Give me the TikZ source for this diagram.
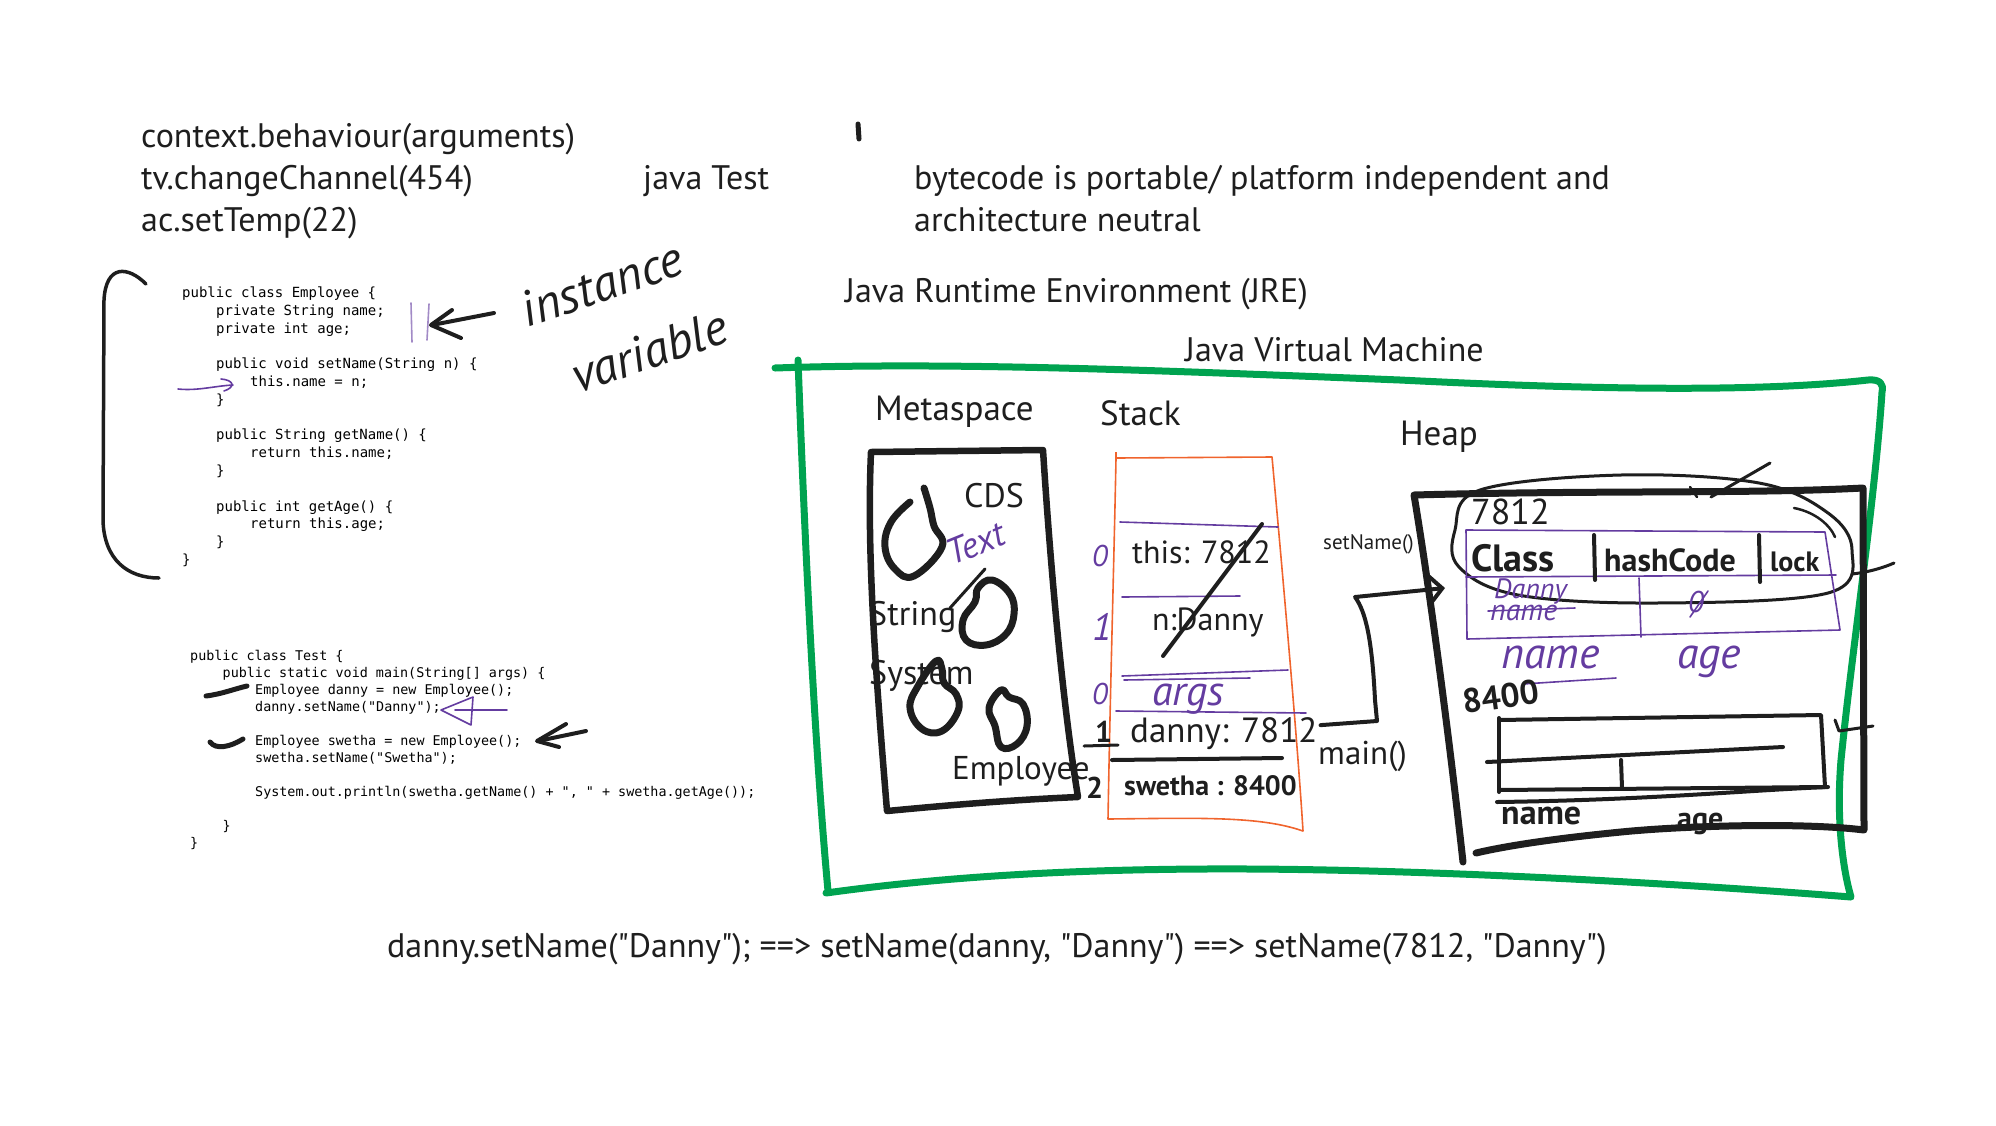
\documentclass[tikz,border=0pt]{standalone}
\usepackage{fontspec}
\usetikzlibrary{arrows.meta}
\newfontfamily\handfont{PT Sans}
\newfontfamily\codefont{DejaVu Sans Mono}
\definecolor{jvmgreen}{RGB}{0,163,80}
\definecolor{stackorange}{RGB}{240,100,45}
\definecolor{penpurple}{RGB}{100,60,160}
\definecolor{ink}{RGB}{30,30,30}
\tikzset{
  typed/.style={anchor=base west, inner sep=0pt, text=ink, font=\handfont\fontsize{#1}{#1}\selectfont},
  typed/.default=34,
  codeline/.style={anchor=base west, inner sep=0pt, text=black, font=\codefont\fontsize{14}{17}\selectfont},
  testline/.style={codeline, font=\codefont\fontsize{13.4}{16}\selectfont},
  scrawl/.style={anchor=base west, inner sep=0pt, text=ink, font=\handfont\bfseries\fontsize{#1}{#1}\selectfont},
  cursive/.style={anchor=base west, inner sep=0pt, text=penpurple, font=\handfont\itshape\fontsize{#1}{#1}\selectfont},
  pen/.style={penpurple, line width=1.6pt, line cap=round, line join=round},
  marker/.style={ink, line width=4pt, line cap=round, line join=round},
  blob/.style={ink, line width=7pt, line cap=round, line join=round},
  memline/.style={ink, line width=6.5pt, line cap=round, line join=round},
  vmline/.style={jvmgreen, line width=7pt, line cap=round, line join=round}
}
\begin{document}
\begin{tikzpicture}[x=1pt, y=-1pt]
  \useasboundingbox (0,0) rectangle (1996,1125);

  \node[typed] (ctx) at (141,147) {context.behaviour(arguments)};
  \node[typed] (tv) at (141,189) {tv.changeChannel(454)};
  \node[typed] (ac) at (141,231) {ac.setTemp(22)};
  \node[typed] (run) at (643,189) {java Test};
  \node[typed] (portable) at (914,189) {bytecode is portable/ platform independent and};
  \node[typed] (neutral) at (914,231) {architecture neutral};
  \node[typed] (jre) at (845,302) {Java Runtime Environment (JRE)};
  \node[typed] (jvm) at (1185,361) {Java Virtual Machine};
  \draw[ink, line width=5pt, line cap=round] (858,124) -- (859,139);

  \draw[ink, line width=3.5pt, line cap=round] (146,284) .. controls (128,266) and (106,264) .. (104,300) -- (103,520) .. controls (104,560) and (128,578) .. (159,578);
  \node[codeline] (e1) at (182,297.5) {public class Employee \{};
  \node[codeline] (e2) at (216,315.3) {private String name;};
  \node[codeline] (e3) at (216,333.1) {private int age;};
  \node[codeline] (e4) at (216,368.7) {public void setName(String n) \{};
  \node[codeline] (e5) at (250,386.5) {this.name = n;};
  \node[codeline] (e6) at (216,404.3) {\}};
  \node[codeline] (e7) at (216,439.9) {public String getName() \{};
  \node[codeline] (e8) at (250,457.7) {return this.name;};
  \node[codeline] (e9) at (216,475.5) {\}};
  \node[codeline] (e10) at (216,511.1) {public int getAge() \{};
  \node[codeline] (e11) at (250,528.9) {return this.age;};
  \node[codeline] (e12) at (216,546.7) {\}};
  \node[codeline] (e13) at (182,564.5) {\}};

  \draw[pen, penpurple!60] (411,303) -- (412,342);
  \draw[pen, penpurple!60] (429,304) -- (427,340);
  \draw[marker] (494,313) -- (432,325);
  \draw[marker] (452,310) -- (431,325) -- (461,338);
  \node[inner sep=0pt, text=ink, align=left, rotate=19, font=\handfont\itshape\fontsize{50}{79}\selectfont] (instvar) at (624,318) {instance\\\hspace{26pt}variable};
  \draw[pen] (178,389) .. controls (198,391) and (214,386) .. (233,385);
  \draw[pen] (221,379) .. controls (234,380) and (236,387) .. (224,391);

  \node[testline] (t1) at (190,660.3) {public class Test \{};
  \node[testline] (t2) at (222.5,677.3) {public static void main(String[] args) \{};
  \node[testline] (t3) at (255,694.3) {Employee danny = new Employee();};
  \node[testline] (t4) at (255,711.3) {danny.setName("Danny");};
  \node[testline] (t5) at (255,745.3) {Employee swetha = new Employee();};
  \node[testline] (t6) at (255,762.3) {swetha.setName("Swetha");};
  \node[testline] (t7) at (255,796.3) {System.out.println(swetha.getName() + ", " + swetha.getAge());};
  \node[testline] (t8) at (222.5,830.3) {\}};
  \node[testline] (t9) at (190,847.3) {\}};

  \draw[marker, line width=5pt] (206,696) .. controls (222,694) and (234,689) .. (247,686);
  \draw[marker, line width=5pt] (210,742) .. controls (216,750) and (230,747) .. (243,739);
  \draw[pen] (473,697) -- (441,710) -- (471,725) -- cycle;
  \draw[pen] (455,710) -- (507,710);
  \draw[marker] (586,731) -- (538,741);
  \draw[marker] (566,724) -- (537,741) -- (559,747);

  \draw[vmline] (775,368) .. controls (950,362) and (1150,370) .. (1400,380) .. controls (1600,390) and (1760,392) .. (1868,380) .. controls (1880,379) and (1884,384) .. (1882,392) .. controls (1875,500) and (1852,650) .. (1841,760) .. controls (1836,820) and (1843,870) .. (1851,897) .. controls (1700,885) and (1450,870) .. (1250,869) .. controls (1050,868) and (920,880) .. (826,893);
  \draw[vmline] (798,360) .. controls (805,550) and (815,750) .. (828,891);

  \node[typed=35] (metaspace) at (875,420) {Metaspace};
  \node[typed=35] (stack) at (1100,425) {Stack};
  \node[typed=35] (heap) at (1400,445) {Heap};

  \draw[memline] (871,452) -- (1043,450) .. controls (1050,560) and (1062,700) .. (1078,797) .. controls (1010,800) and (950,805) .. (887,811) .. controls (878,700) and (866,560) .. (871,452) -- cycle;
  \draw[blob] plot[smooth, tension=0.7] coordinates {(924,488) (930,508) (934,526) (942,547) (914,576) (895,569) (885,547) (891,522) (910,502)};
  \draw[ink, line width=3pt, line cap=round] (985,569) -- (950,608);
  \draw[blob] plot[smooth cycle, tension=0.7] coordinates {(992,580) (1010,594) (1014,614) (1006,634) (986,645) (966,640) (963,620) (975,602) (978,588)};
  \draw[blob] plot[smooth cycle, tension=0.7] coordinates {(936,661) (918,686) (910,708) (922,729) (942,731) (958,711) (956,694) (944,683) (942,669)};
  \draw[blob] plot[smooth cycle, tension=0.7] coordinates {(1001,690) (989,708) (995,726) (1001,747) (1017,744) (1027,726) (1023,704) (1009,697)};
  \node[typed=34] (cds) at (964,507) {CDS};
  \node[cursive=36, rotate=22] (textnote) at (952,566) {Text};
  \node[typed=34] (string) at (869,625) {String};
  \node[typed=34] (system) at (869,684) {System};
  \node[typed=33] (employee) at (952,779) {Employee};

  \draw[stackorange, line width=1.6pt, line join=round] (1116,452) -- (1116,458) -- (1272,457) .. controls (1285,600) and (1298,750) .. (1303,831) .. controls (1260,816) and (1200,818) .. (1108,819) .. controls (1110,700) and (1114,560) .. (1116,458);
  \draw[pen] (1120,522) -- (1278,527);
  \draw[pen] (1122,597) -- (1240,596);
  \draw[pen] (1122,676) -- (1288,670);
  \draw[pen] (1124,680) -- (1250,678);
  \draw[pen] (1116,711) -- (1306,713);
  \node[typed=32] (thisref) at (1132,563) {this: 7812};
  \node[typed=32] (nref) at (1152,630) {n:Danny};
  \draw[marker] (1262,524) -- (1163,656);
  \node[cursive=30] (slot0) at (1092,566) {0};
  \node[cursive=38] (slot1) at (1092,640) {1};
  \node[cursive=30] (slot0b) at (1092,704) {0};
  \node[cursive=42] (args) at (1152,705) {args};
  \node[scrawl=30] (mslot1) at (1095,742) {1};
  \draw[marker, line width=3pt] (1084,746) -- (1118,745);
  \node[typed=35] (dannyref) at (1130,742) {danny: 7812};
  \draw[marker] (1112,760) -- (1282,758);
  \node[scrawl=30] (mslot2) at (1086,798) {2};
  \node[scrawl=28] (swetharef) at (1124,795) {swetha : 8400};
  \node[typed=21] (setname) at (1323,549) {setName()};
  \node[typed=33] (main) at (1318,764) {main()};

  \draw[memline, line width=7pt] (1463,862) .. controls (1445,700) and (1425,560) .. (1414,495) .. controls (1600,490) and (1750,494) .. (1863,488) -- (1864,830) .. controls (1800,822) and (1680,826) .. (1621,832) .. controls (1560,838) and (1510,845) .. (1476,853);
  \coordinate (objin) at (1445,588);
  \draw[marker, -{Straight Barb[length=14pt, width=30pt]}] (dannyref.east) ++(3,-8) -- (1377,721) -- (1375,700) .. controls (1372,640) and (1366,612) .. (1355,597) -- (objin);

  \draw[ink, line width=3pt] plot[smooth cycle, tension=0.6] coordinates {(1480,490) (1621,475) (1759,483) (1828,513) (1852,550) (1828,593) (1656,603) (1518,595) (1459,567) (1455,530)};
  \draw[ink, line width=2.5pt, line cap=round] (1794,508) .. controls (1815,512) and (1830,525) .. (1835,537);
  \draw[ink, line width=2.5pt, line cap=round] (1690,487) -- (1697,497);
  \draw[ink, line width=3pt, line cap=round] (1711,497) -- (1770,463);
  \draw[ink, line width=3pt, line cap=round] (1852,574) .. controls (1870,572) and (1885,567) .. (1894,563);
  \draw[ink, line width=3pt, line cap=round, line join=round] (1835,720) -- (1839,731) -- (1873,726);
  \node[typed=36] (addr) at (1471,524) {7812};

  \draw[pen] (1466,530) -- (1825,532) -- (1840,630) -- (1467,639) -- cycle;
  \draw[pen] (1466,577) -- (1836,575);
  \draw[pen] (1639,578) -- (1641,637);
  \node[scrawl=38] (hdclass) at (1471,571) {Class};
  \draw[marker] (1594,535) -- (1595,580);
  \node[scrawl=32] (hdhash) at (1604,571) {hashCode};
  \draw[marker] (1759,535) -- (1760,582);
  \node[scrawl=28] (hdlock) at (1770,571) {lock};
  \node[cursive=28] (fldval) at (1494,598) {Danny};
  \node[cursive=30] (fldold) at (1490,620) {name};
  \draw[pen] (1488,611) -- (1575,608);
  \node[cursive=30] (ageval) at (1688,612) {0};
  \draw[pen] (1690,617) -- (1708,591);
  \node[cursive=44] (fldname) at (1501,668) {name};
  \draw[pen] (1523,684) -- (1616,678);
  \node[cursive=44] (fldage) at (1677,668) {age};

  \node[scrawl=34, rotate=8] (addr2) at (1464,714) {8400};
  \draw[marker] (1499,718) -- (1499,792);
  \draw[marker] (1499,720) -- (1821,715) -- (1825,787) -- (1499,790);
  \draw[marker] (1487,762) -- (1783,747);
  \draw[marker] (1621,760) -- (1622,788);
  \draw[marker] (1497,802) .. controls (1650,800) and (1750,790) .. (1828,787);
  \node[scrawl=34] (objname) at (1501,824) {name};
  \node[scrawl=30] (objage) at (1677,828) {age};

  \node[typed] (rewrite) at (387,957) {danny.setName("Danny"); ==> setName(danny, "Danny") ==> setName(7812, "Danny")};
\end{tikzpicture}
\end{document}
